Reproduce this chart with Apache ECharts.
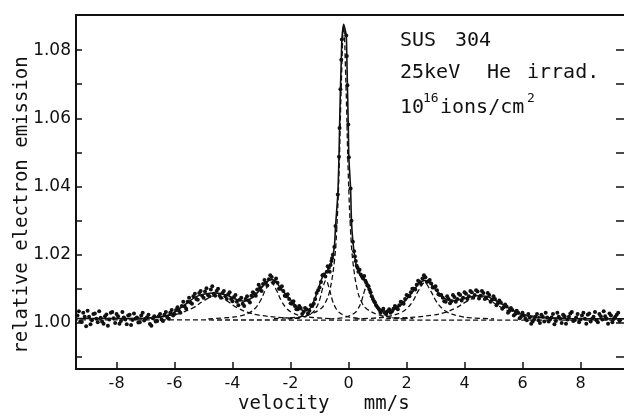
<!DOCTYPE html>
<html>
<head>
<meta charset="utf-8">
<script src="https://cdn.jsdelivr.net/npm/echarts@6/dist/echarts.min.js"></script>
<style>
  html, body { margin: 0; padding: 0; background: #fff; }
  #chart { width: 624px; height: 416px; }
</style>
</head>
<body>
<div id="chart"></div>
<script>
// axis ticks
const xTicks = [-8, -6, -4, -2, 0, 2, 4, 6, 8]
const yTicks = [0.99, 1.00, 1.01, 1.02, 1.03, 1.04, 1.05, 1.06, 1.07, 1.08]
const yLabels = [1.00, 1.02, 1.04, 1.06, 1.08]

// measured spectrum, first half of channels (velocity mm/s, relative emission)
const dataPointsA = [
  [-9.35,1.0022],[-9.25,1.0005],[-9.15,1.0030],[-9.05,0.9990],[-8.95,1.0018],[-8.85,1.0008],[-8.75,1.0028],[-8.65,1.0002],
  [-8.55,1.0015],[-8.45,0.9998],[-8.35,1.0025],[-8.25,1.0010],[-8.15,1.0032],[-8.05,1.0000],[-7.95,1.0020],[-7.85,1.0006],
  [-7.75,1.0016],[-7.65,0.9996],[-7.55,1.0024],[-7.45,1.0009],[-7.35,1.0012],[-7.25,1.0001],[-7.15,1.0022],[-7.05,1.0007],
  [-6.95,1.0017],[-6.85,0.9997],[-6.75,1.0014],[-6.65,1.0004],[-6.55,1.0020],[-6.45,1.0010],[-6.35,1.0024],[-6.25,1.0016],
  [-6.15,1.0030],[-6.05,1.0022],[-5.95,1.0038],[-5.85,1.0036],[-5.75,1.0050],[-5.65,1.0048],[-5.55,1.0062],[-5.45,1.0060],
  [-5.35,1.0078],[-5.25,1.0070],[-5.15,1.0088],[-5.05,1.0080],[-4.95,1.0092],[-4.85,1.0082],[-4.75,1.0098],[-4.65,1.0086],
  [-4.55,1.0094],[-4.45,1.0080],[-4.35,1.0088],[-4.25,1.0078],[-4.15,1.0084],[-4.05,1.0070],[-3.95,1.0076],[-3.85,1.0062],
  [-3.75,1.0068],[-3.65,1.0056],[-3.55,1.0070],[-3.45,1.0066],[-3.35,1.0080],[-3.25,1.0086],[-3.15,1.0098],[-3.05,1.0104],
  [-2.95,1.0114],[-2.85,1.0118],[-2.75,1.0128],[-2.65,1.0135],[-2.55,1.0122],[-2.45,1.0118],[-2.35,1.0100],[-2.25,1.0094],
  [-2.15,1.0078],[-2.05,1.0070],[-1.95,1.0056],[-1.85,1.0050],[-1.75,1.0040],[-1.65,1.0044],[-1.55,1.0032],[-1.45,1.0040],
  [-1.35,1.0036],[-1.25,1.0050],[-1.15,1.0070],[-1.05,1.0096],[-0.95,1.0120],[-0.85,1.0142],[-0.75,1.0150],[-0.68,1.0162],
  [-0.62,1.0170],[-0.57,1.0190],[-0.49,1.0223],[-0.45,1.0284],[-0.37,1.0377],[-0.33,1.0487],[-0.31,1.0572],[-0.28,1.0685],
  [-0.25,1.0772],[-0.23,1.0831],[-0.08,1.0843],[-0.06,1.0783],[-0.04,1.0697],[-0.01,1.0582],[0.01,1.0486],[0.07,1.0394],
  [0.10,1.0300],[0.15,1.0238],[0.22,1.0195],[0.28,1.0168],[0.34,1.0150],[0.42,1.0142],[0.50,1.0130],[0.58,1.0124],
  [0.65,1.0110],[0.72,1.0098],[0.80,1.0078],[0.88,1.0064],[0.95,1.0052],[1.05,1.0040],[1.15,1.0036],[1.25,1.0030],
  [1.35,1.0034],[1.45,1.0030],[1.55,1.0042],[1.65,1.0046],[1.75,1.0052],[1.85,1.0060],[1.95,1.0070],[2.05,1.0080],
  [2.15,1.0090],[2.25,1.0100],[2.35,1.0112],[2.45,1.0120],[2.55,1.0130],[2.65,1.0134],[2.75,1.0122],[2.85,1.0116],
  [2.95,1.0104],[3.05,1.0096],[3.15,1.0082],[3.25,1.0074],[3.35,1.0062],[3.45,1.0070],[3.55,1.0064],[3.65,1.0076],
  [3.75,1.0070],[3.85,1.0082],[3.95,1.0074],[4.05,1.0086],[4.15,1.0078],[4.25,1.0090],[4.35,1.0082],[4.45,1.0092],
  [4.55,1.0080],[4.65,1.0088],[4.75,1.0074],[4.85,1.0082],[4.95,1.0068],[5.05,1.0070],[5.15,1.0058],[5.25,1.0060],
  [5.35,1.0046],[5.45,1.0048],[5.55,1.0036],[5.65,1.0038],[5.75,1.0026],[5.85,1.0030],[5.95,1.0018],[6.05,1.0022],
  [6.15,1.0008],[6.25,1.0016],[6.35,1.0004],[6.45,1.0018],[6.55,1.0008],[6.65,1.0024],[6.75,1.0004],[6.85,1.0016],
  [6.95,1.0010],[7.05,1.0026],[7.15,1.0006],[7.25,1.0018],[7.35,1.0000],[7.45,1.0020],[7.55,1.0010],[7.65,1.0028],
  [7.75,1.0006],[7.85,1.0016],[7.95,1.0002],[8.05,1.0022],[8.15,1.0012],[8.25,1.0024],[8.35,1.0004],[8.45,1.0018],
  [8.55,1.0008],[8.65,1.0026],[8.75,1.0010],[8.85,1.0020],[8.95,0.9998],[9.05,1.0022],[9.15,1.0012],[9.25,1.0024],
  [9.35,1.0006]
]

// measured spectrum, second half of channels
const dataPointsB = [
  [-9.30,1.0034],[-9.20,1.0003],[-9.10,1.0018],[-9.00,1.0036],[-8.90,0.9996],[-8.80,1.0026],[-8.70,1.0012],[-8.60,1.0034],
  [-8.50,1.0004],[-8.40,1.0020],[-8.30,0.9992],[-8.20,1.0030],[-8.10,1.0014],[-8.00,1.0026],[-7.90,0.9998],[-7.80,1.0032],
  [-7.70,1.0010],[-7.60,1.0022],[-7.50,0.9994],[-7.40,1.0028],[-7.30,1.0016],[-7.20,1.0002],[-7.10,1.0030],[-7.00,1.0012],
  [-6.90,1.0024],[-6.80,0.9992],[-6.70,1.0020],[-6.60,1.0006],[-6.50,1.0026],[-6.40,1.0006],[-6.30,1.0032],[-6.20,1.0012],
  [-6.10,1.0038],[-6.00,1.0026],[-5.90,1.0046],[-5.80,1.0030],[-5.70,1.0062],[-5.60,1.0042],[-5.50,1.0074],[-5.40,1.0056],
  [-5.30,1.0086],[-5.20,1.0068],[-5.10,1.0094],[-5.00,1.0074],[-4.90,1.0102],[-4.80,1.0078],[-4.70,1.0108],[-4.60,1.0080],
  [-4.50,1.0100],[-4.40,1.0074],[-4.30,1.0094],[-4.20,1.0070],[-4.10,1.0090],[-4.00,1.0064],[-3.90,1.0082],[-3.80,1.0052],
  [-3.70,1.0074],[-3.60,1.0050],[-3.50,1.0078],[-3.40,1.0060],[-3.30,1.0090],[-3.20,1.0080],[-3.10,1.0112],[-3.00,1.0094],
  [-2.90,1.0126],[-2.80,1.0110],[-2.70,1.0140],[-2.60,1.0118],[-2.50,1.0130],[-2.40,1.0100],[-2.30,1.0108],[-2.20,1.0080],
  [-2.10,1.0084],[-2.00,1.0058],[-1.90,1.0064],[-1.80,1.0040],[-1.70,1.0050],[-1.60,1.0026],[-1.50,1.0044],[-1.40,1.0028],
  [-1.30,1.0052],[-1.20,1.0056],[-1.10,1.0088],[-1.00,1.0104],[-0.90,1.0140],[-0.80,1.0136],[-0.72,1.0166],[-0.65,1.0150],
  [-0.59,1.0182],[-0.54,1.0200],[0.19,1.0210],[0.25,1.0182],[0.31,1.0162],[0.38,1.0156],[0.46,1.0136],[0.54,1.0138],
  [0.61,1.0118],[0.69,1.0108],[0.76,1.0090],[0.84,1.0070],[0.91,1.0060],[1.00,1.0046],[1.10,1.0030],[1.20,1.0042],
  [1.30,1.0026],[1.40,1.0040],[1.50,1.0034],[1.60,1.0050],[1.70,1.0040],[1.80,1.0062],[1.90,1.0056],[2.00,1.0082],
  [2.10,1.0078],[2.20,1.0100],[2.30,1.0098],[2.40,1.0124],[2.50,1.0114],[2.60,1.0140],[2.70,1.0120],[2.80,1.0126],
  [2.90,1.0104],[3.00,1.0108],[3.10,1.0084],[3.20,1.0082],[3.30,1.0064],[3.40,1.0078],[3.50,1.0058],[3.60,1.0082],
  [3.70,1.0062],[3.80,1.0086],[3.90,1.0066],[4.00,1.0090],[4.10,1.0070],[4.20,1.0094],[4.30,1.0074],[4.40,1.0096],
  [4.50,1.0072],[4.60,1.0094],[4.70,1.0070],[4.80,1.0088],[4.90,1.0062],[5.00,1.0078],[5.10,1.0052],[5.20,1.0066],
  [5.30,1.0042],[5.40,1.0054],[5.50,1.0030],[5.60,1.0044],[5.70,1.0022],[5.80,1.0036],[5.90,1.0014],[6.00,1.0030],
  [6.10,1.0012],[6.20,1.0026],[6.30,0.9998],[6.40,1.0010],[6.50,1.0026],[6.60,1.0000],[6.70,1.0018],[6.80,1.0030],
  [6.90,1.0004],[7.00,1.0016],[7.10,0.9996],[7.20,1.0030],[7.30,1.0012],[7.40,1.0024],[7.50,0.9998],[7.60,1.0018],
  [7.70,1.0032],[7.80,1.0008],[7.90,1.0026],[8.00,1.0010],[8.10,1.0030],[8.20,0.9998],[8.30,1.0028],[8.40,1.0012],
  [8.50,1.0032],[8.60,1.0002],[8.70,1.0020],[8.80,1.0034],[8.90,1.0012],[9.00,1.0028],[9.10,1.0002],[9.20,1.0018],
  [9.30,1.0030]
]

// fitted total curve
const fitLine = [
  [-9.5,1.0013],[-8,1.0013],[-7,1.0014],[-6.5,1.0017],[-6.1,1.0027],[-5.7,1.0050],[-5.3,1.0075],[-5.0,1.0084],
  [-4.6,1.0088],[-4.2,1.0082],[-3.9,1.0070],[-3.6,1.0064],[-3.3,1.0075],[-3.0,1.0103],[-2.8,1.0122],[-2.65,1.0127],
  [-2.5,1.0120],[-2.3,1.0097],[-2.0,1.0068],[-1.75,1.0045],[-1.5,1.0035],[-1.3,1.0045],[-1.1,1.0085],[-0.9,1.0135],
  [-0.72,1.0155],[-0.6,1.0175],[-0.49,1.0223],[-0.45,1.0282],[-0.37,1.0377],[-0.33,1.0487],[-0.31,1.0572],[-0.28,1.0685],
  [-0.25,1.0772],[-0.23,1.0831],[-0.17,1.0876],[-0.08,1.0843],[-0.06,1.0783],[-0.04,1.0697],[-0.01,1.0582],[0.01,1.0486],
  [0.07,1.0394],[0.10,1.0300],[0.15,1.0238],[0.22,1.0190],[0.30,1.0158],[0.45,1.0137],[0.62,1.0115],[0.8,1.0075],
  [1.0,1.0045],[1.3,1.0034],[1.6,1.0040],[1.9,1.0060],[2.2,1.0090],[2.45,1.0118],[2.62,1.0125],[2.8,1.0118],
  [3.0,1.0098],[3.3,1.0072],[3.6,1.0066],[4.0,1.0072],[4.4,1.0080],[4.8,1.0077],[5.2,1.0060],[5.6,1.0040],
  [6.0,1.0024],[6.5,1.0016],[7.5,1.0013],[9.5,1.0012]
]

// fitted components (dashed)
const baseLine = [[-9.5,1.0009],[9.5,1.0008]]
const line1 = [[-7.6,1.0013],[-6.85,1.0016],[-6.1,1.0023],[-5.725,1.0031],[-5.35,1.0045],[-4.975,1.0066],[-4.6,1.0080],
  [-4.225,1.0066],[-3.85,1.0045],[-3.475,1.0031],[-3.1,1.0023],[-2.35,1.0016],[-1.6,1.0013]]
const line2 = [[-4.84,1.0012],[-4.12,1.0016],[-3.76,1.0020],[-3.40,1.0031],[-3.22,1.0043],[-3.04,1.0065],[-2.86,1.0098],
  [-2.68,1.0120],[-2.50,1.0098],[-2.32,1.0065],[-2.14,1.0043],[-1.96,1.0031],[-1.60,1.0020],[-1.24,1.0016],[-0.52,1.0012]]
const line3 = [[-2.10,1.0012],[-1.66,1.0016],[-1.44,1.0021],[-1.22,1.0032],[-1.11,1.0045],[-1.00,1.0067],[-0.89,1.0102],
  [-0.78,1.0125],[-0.67,1.0102],[-0.56,1.0067],[-0.45,1.0045],[-0.34,1.0032],[-0.12,1.0021],[0.10,1.0016],[0.54,1.0012]]
const line0 = [[-2.57,1.0013],[-1.77,1.0017],[-1.37,1.0024],[-0.97,1.0041],[-0.81,1.0058],[-0.65,1.0094],[-0.49,1.0180],
  [-0.41,1.0270],[-0.33,1.0438],[-0.25,1.0700],[-0.17,1.0868],[-0.09,1.0700],[-0.01,1.0438],[0.07,1.0270],[0.15,1.0180],
  [0.31,1.0094],[0.47,1.0058],[0.63,1.0041],[1.03,1.0024],[1.43,1.0017],[2.23,1.0013]]
const line4 = [[-0.66,1.0012],[-0.22,1.0015],[0.00,1.0020],[0.22,1.0030],[0.33,1.0042],[0.44,1.0062],[0.55,1.0094],
  [0.66,1.0115],[0.77,1.0094],[0.88,1.0062],[0.99,1.0042],[1.10,1.0030],[1.32,1.0020],[1.54,1.0015],[1.98,1.0012]]
const line5 = [[0.22,1.0012],[1.02,1.0015],[1.42,1.0020],[1.82,1.0031],[2.02,1.0043],[2.22,1.0064],[2.42,1.0096],
  [2.62,1.0118],[2.82,1.0096],[3.02,1.0064],[3.22,1.0043],[3.42,1.0031],[3.82,1.0020],[4.22,1.0015],[5.02,1.0012]]
const line6 = [[1.3,1.0013],[2.1,1.0016],[2.9,1.0023],[3.3,1.0030],[3.7,1.0044],[4.1,1.0064],[4.5,1.0078],
  [4.9,1.0064],[5.3,1.0044],[5.7,1.0030],[6.1,1.0023],[6.9,1.0016],[7.7,1.0013]]

const ink = '#111'
const mono = 'DejaVu Sans Mono'

function dashed(data){
  return {
    type:'line', data:data, showSymbol:false, smooth:0.4, silent:true,
    lineStyle:{ color:ink, width:1.3, type:[5,3] }
  }
}

function dots(data){
  return {
    type:'scatter', data:data, symbol:'circle', symbolSize:4, silent:true,
    itemStyle:{ color:ink, opacity:1 }
  }
}

const chart = echarts.init(document.getElementById('chart'))
chart.setOption({
  animation:false,
  // right edge of the frame falls just outside the picture, only its ticks show
  grid:{ left:76, right:-3, top:15, bottom:47 },
  xAxis:[
    {
      type:'value', min:-9.4, max:9.5,
      axisLine:{ onZero:false, lineStyle:{ color:ink, width:2 } },
      axisTick:{ inside:true, length:7, customValues:xTicks, lineStyle:{ color:ink, width:1.5 } },
      axisLabel:{ customValues:xTicks, margin:7, color:ink, fontSize:16, fontFamily:'DejaVu Sans' },
      splitLine:{ show:false }
    },
    {
      type:'value', position:'top', min:-9.4, max:9.5,
      axisLine:{ show:true, onZero:false, lineStyle:{ color:ink, width:2 } },
      axisTick:{ show:false }, axisLabel:{ show:false }, splitLine:{ show:false }
    }
  ],
  yAxis:[
    {
      type:'value', min:0.9865, max:1.0903,
      axisLine:{ show:true, onZero:false, lineStyle:{ color:ink, width:2 } },
      axisTick:{ show:true, inside:true, length:6, customValues:yTicks, lineStyle:{ color:ink, width:1.5 } },
      axisLabel:{ customValues:yLabels, margin:5, color:ink, fontSize:17, fontFamily:'DejaVu Sans',
        formatter:v => v.toFixed(2) },
      splitLine:{ show:false }
    },
    {
      type:'value', position:'right', min:0.9865, max:1.0903,
      axisLine:{ show:false, onZero:false },
      axisTick:{ show:true, inside:true, length:8, customValues:yTicks, lineStyle:{ color:ink, width:1.5 } },
      axisLabel:{ show:false }, splitLine:{ show:false }
    }
  ],
  series:[
    dashed(baseLine), dashed(line1), dashed(line2), dashed(line3), dashed(line0),
    dashed(line4), dashed(line5), dashed(line6),
    dots(dataPointsA), dots(dataPointsB),
    {
      type:'line', data:fitLine, showSymbol:false, smooth:0.2, silent:true,
      lineStyle:{ color:ink, width:1.6 }
    }
  ],
  graphic:[
    { type:'text', x:22, y:205, rotation:Math.PI/2,
      style:{ text:'relative electron emission', fontSize:19, fontFamily:mono, fill:ink,
        textAlign:'center', textVerticalAlign:'middle' } },
    { type:'text', x:238, y:404,
      style:{ text:'velocity   mm/s', fontSize:19, fontFamily:mono, fill:ink,
        textAlign:'left', textVerticalAlign:'middle' } },
    // annotation
    { type:'text', x:400, y:31, style:{ text:'SUS', fontSize:20, fontFamily:mono, fill:ink } },
    { type:'text', x:455, y:31, style:{ text:'304', fontSize:20, fontFamily:mono, fill:ink } },
    { type:'text', x:400, y:63, style:{ text:'25keV', fontSize:20, fontFamily:mono, fill:ink } },
    { type:'text', x:487, y:63, style:{ text:'He', fontSize:20, fontFamily:mono, fill:ink } },
    { type:'text', x:527, y:63, style:{ text:'irrad.', fontSize:20, fontFamily:mono, fill:ink } },
    { type:'text', x:400, y:98, style:{ text:'10', fontSize:20, fontFamily:mono, fill:ink } },
    { type:'text', x:423, y:92, style:{ text:'16', fontSize:13, fontFamily:mono, fill:ink } },
    { type:'text', x:440, y:98, style:{ text:'ions/cm', fontSize:20, fontFamily:mono, fill:ink } },
    { type:'text', x:527, y:92, style:{ text:'2', fontSize:13, fontFamily:mono, fill:ink } }
  ]
})
</script>
</body>
</html>
